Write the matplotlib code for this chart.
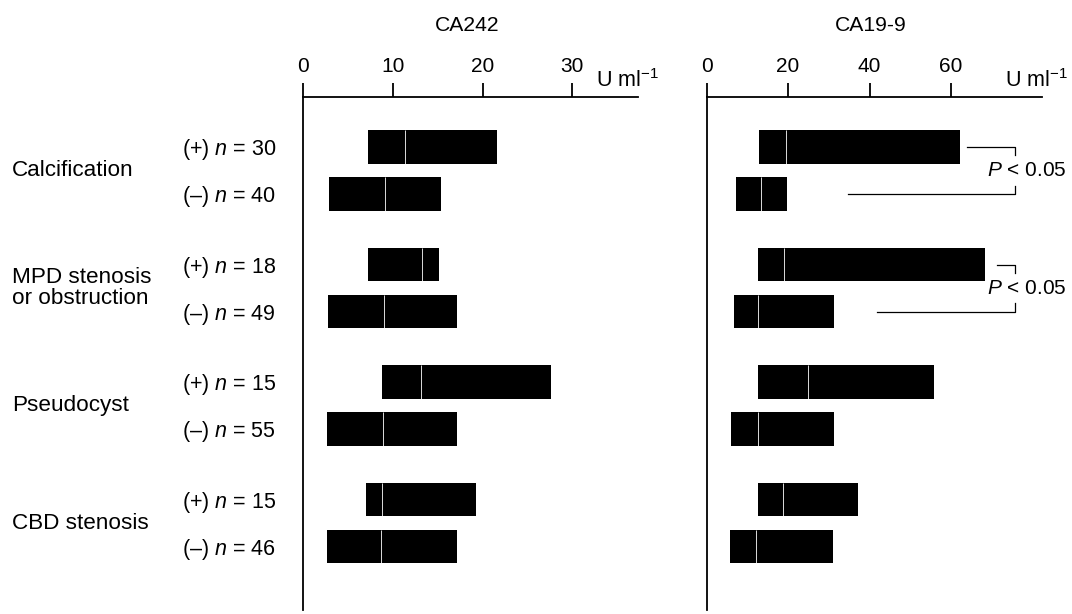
import numpy as np
import matplotlib
matplotlib.use("Agg")
import matplotlib.pyplot as plt
import matplotlib.transforms as mtransforms

plt.rcParams['font.family'] = ['Liberation Sans', 'DejaVu Sans']
plt.rcParams['mathtext.fontset'] = 'custom'
plt.rcParams['mathtext.rm'] = 'Liberation Sans'
plt.rcParams['mathtext.it'] = 'Liberation Sans:italic'
plt.rcParams['mathtext.default'] = 'it'

# data: (low, median, high) per subgroup
groups = ['Calcification', 'MPD stenosis\nor obstruction', 'Pseudocyst', 'CBD stenosis']
signs = ['(+)', '(\u2013)']
n_vals = [30, 40, 18, 49, 15, 55, 15, 46]

ca242_low = [7.2, 2.9, 7.2, 2.8, 8.8, 2.7, 7.0, 2.7]
ca242_med = [11.3, 9.1, 13.2, 9.0, 13.1, 8.9, 8.8, 8.7]
ca242_high = [21.6, 15.4, 15.1, 17.2, 27.6, 17.2, 19.3, 17.1]

ca199_low = [12.8, 7.2, 12.6, 6.8, 12.6, 6.0, 12.5, 5.8]
ca199_med = [19.4, 13.4, 19.1, 12.5, 24.9, 12.5, 18.7, 12.2]
ca199_high = [62.2, 19.7, 68.3, 31.3, 55.8, 31.2, 37.2, 31.0]

ticks_242 = [0, 10, 20, 30]
ticks_199 = [0, 20, 40, 60]

# significance brackets on CA19-9: (pair index, upper line start, lower line start)
sig_pairs = [(0, 63.9, 34.7), (1, 71.4, 41.9)]

fig = plt.figure(figsize=(10.72, 6.14), dpi=100)
ax1 = fig.add_axes([303.3 / 1072, 4 / 614, (638 - 303.3) / 1072, 0.836])
ax2 = fig.add_axes([706.7 / 1072, 4 / 614, (1041.7 - 706.7) / 1072, 0.836])

ypos = np.array([g * 2.5 + i for g in range(len(groups)) for i in range(2)], dtype=float)
bh = 0.72

def panel(ax, low, med, high, ticks, xmax, title, unit_x):
    low = np.array(low); med = np.array(med); high = np.array(high)
    ax.barh(ypos, high - low, left=low, height=bh, color='black', edgecolor='none')
    ax.vlines(med, ypos - bh / 2, ypos + bh / 2, color='white', lw=0.6)
    ax.set_xlim(0, xmax)
    ax.set_ylim(9.85, -1.07)
    ax.xaxis.tick_top()
    ax.set_xticks(ticks)
    ax.tick_params(axis='x', direction='out', length=10, width=1.3, pad=5, labelsize=15)
    ax.set_yticks([])
    for s in ['right', 'bottom']:
        ax.spines[s].set_visible(False)
    for s in ['top', 'left']:
        ax.spines[s].set_linewidth(1.3)
    ax.annotate(title, xy=(0.49, 1.0), xycoords='axes fraction', xytext=(0, 51.5),
                textcoords='offset points', ha='center', va='center', fontsize=15.2)
    ax.annotate('U ml$^{\\mathrm{\u22121}}$', xy=(unit_x, 1.0), xycoords='axes fraction',
                xytext=(0, 3.5), textcoords='offset points', ha='center', va='bottom',
                fontsize=15.5)

panel(ax1, ca242_low, ca242_med, ca242_high, ticks_242, 37.35, 'CA242', 0.969)
panel(ax2, ca199_low, ca199_med, ca199_high, ticks_199, 82.3, 'CA19-9', 0.983)

# left-hand labels
tr = mtransforms.blended_transform_factory(fig.transFigure, ax1.transData)
for g, name in enumerate(groups):
    fig.text(0.011, g * 2.5 + 0.5, name, transform=tr, ha='left', va='center',
             fontsize=16.2, linespacing=1.0)
for k, y in enumerate(ypos):
    fig.text(0.2575, y + 0.06, f'{signs[k % 2]} $n$ = {n_vals[k]}', transform=tr,
             ha='right', va='center', fontsize=15.5)

# significance brackets
xr = 75.7
for p, xs_up, xs_lo in sig_pairs:
    y0 = ypos[2 * p]
    y1 = ypos[2 * p + 1]
    ax2.plot([xs_up, xr, xr], [y0, y0, y0 + 0.18], color='black', lw=0.9, clip_on=False)
    ax2.plot([xs_lo, xr, xr], [y1, y1, y1 - 0.18], color='black', lw=0.9, clip_on=False)
    ax2.text(88.5, (y0 + y1) / 2, '$P$ < 0.05', ha='right', va='center',
             fontsize=15, clip_on=False)

fig.savefig('out.png', dpi=100)
